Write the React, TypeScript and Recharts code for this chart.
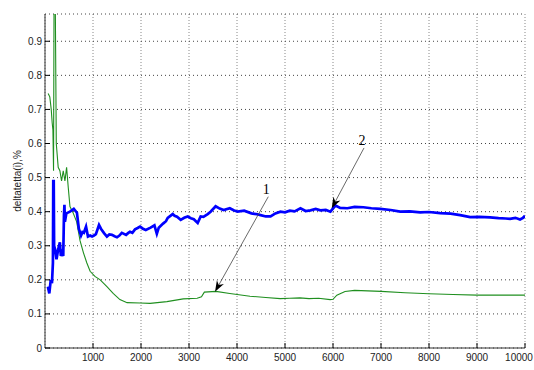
import { LineChart, Line, XAxis, YAxis, CartesianGrid, ReferenceLine } from "recharts"

// curve 1 (green)
const greenX = [65, 100, 130, 150, 165, 178, 190, 210, 235, 275, 310, 345, 380, 415, 450, 485, 520, 590, 660, 730, 800, 870, 940, 1040, 1150, 1290, 1420, 1560, 1710, 1980, 2190, 2540, 2880, 3170, 3260, 3320, 3560, 3850, 4270, 4600, 4900, 5100, 5310, 5500, 5700, 5940, 6000, 6080, 6250, 6450, 7000, 7500, 8000, 8500, 9000, 9500, 10000]
const greenY = [0.747, 0.737, 0.7, 0.66, 0.64, 0.52, 1.1, 1.1, 0.6, 0.53, 0.52, 0.49, 0.52, 0.49, 0.53, 0.47, 0.415, 0.395, 0.37, 0.315, 0.28, 0.25, 0.225, 0.21, 0.2, 0.18, 0.16, 0.142, 0.133, 0.132, 0.131, 0.136, 0.144, 0.146, 0.15, 0.164, 0.166, 0.16, 0.152, 0.148, 0.145, 0.146, 0.147, 0.145, 0.146, 0.142, 0.143, 0.155, 0.166, 0.169, 0.166, 0.162, 0.159, 0.157, 0.155, 0.155, 0.155]

// curve 2 (blue)
const blueX = [60, 90, 120, 145, 165, 172, 182, 190, 210, 240, 275, 310, 330, 355, 380, 395, 405, 415, 445, 520, 600, 665, 705, 750, 780, 810, 855, 895, 940, 980, 1020, 1060, 1125, 1165, 1230, 1290, 1340, 1395, 1450, 1500, 1550, 1600, 1690, 1730, 1770, 1820, 1875, 1930, 1980, 2040, 2100, 2200, 2280, 2330, 2370, 2460, 2520, 2557, 2661, 2700, 2750, 2827, 2900, 2973, 3040, 3100, 3181, 3243, 3300, 3389, 3450, 3555, 3640, 3722, 3850, 3930, 4012, 4150, 4300, 4400, 4491, 4600, 4699, 4800, 4906, 5000, 5100, 5200, 5322, 5430, 5530, 5640, 5738, 5850, 5946, 6050, 6150, 6299, 6450, 6632, 6800, 6985, 7200, 7401, 7600, 7817, 8000, 8233, 8450, 8649, 8857, 9050, 9272, 9450, 9600, 9688, 9800, 9896, 9958, 10000]
const blueY = [0.18, 0.16, 0.2, 0.19, 0.25, 0.49, 0.49, 0.3, 0.29, 0.26, 0.29, 0.31, 0.27, 0.28, 0.27, 0.39, 0.42, 0.37, 0.395, 0.4, 0.408, 0.397, 0.35, 0.33, 0.34, 0.338, 0.356, 0.327, 0.33, 0.327, 0.33, 0.334, 0.361, 0.35, 0.337, 0.327, 0.333, 0.332, 0.328, 0.325, 0.33, 0.338, 0.332, 0.337, 0.341, 0.338, 0.348, 0.352, 0.356, 0.35, 0.346, 0.353, 0.36, 0.335, 0.353, 0.365, 0.372, 0.382, 0.393, 0.388, 0.385, 0.376, 0.382, 0.386, 0.381, 0.378, 0.367, 0.386, 0.385, 0.393, 0.4, 0.416, 0.409, 0.405, 0.41, 0.404, 0.4, 0.403, 0.395, 0.393, 0.39, 0.386, 0.386, 0.395, 0.4, 0.398, 0.403, 0.401, 0.41, 0.402, 0.404, 0.408, 0.404, 0.405, 0.4, 0.418, 0.411, 0.41, 0.414, 0.413, 0.41, 0.408, 0.405, 0.4, 0.401, 0.398, 0.399, 0.396, 0.394, 0.39, 0.384, 0.385, 0.383, 0.381, 0.38, 0.379, 0.382, 0.377, 0.382, 0.388, 0.387]

const xTicks = [1000, 2000, 3000, 4000, 5000, 6000, 7000, 8000, 9000, 10000]
const yTicks = [0, 0.1, 0.2, 0.3, 0.4, 0.5, 0.6, 0.7, 0.8, 0.9]

// annotation arrows: [label point, tip]
const arrowLabels = ["1", "2"]
const arrowX = [[4652, 3542], [6646, 5973]]
const arrowY = [[0.444, 0.165], [0.587, 0.41]]

const greenData = greenX.map((x, i) => ({ x, y: greenY[i] }))
const blueData = blueX.map((x, i) => ({ x, y: blueY[i] }))

const BottomTick = ({ x, y, payload }: any) => (
  <g>
    <line x1={x} x2={x} y1={y} y2={y - 5} stroke="#000" />
    <text
      x={payload.value === 10000 ? x - 6 : x}
      y={y + 13}
      textAnchor="middle"
      fontSize={10}
      fill="#222"
    >
      {payload.value}
    </text>
  </g>
)

const LeftTick = ({ x, y, payload }: any) => (
  <g>
    <line x1={x} x2={x + 5} y1={y} y2={y} stroke="#000" />
    <text x={x - 3} y={y + 3.5} textAnchor="end" fontSize={10} fill="#222">
      {payload.value}
    </text>
  </g>
)

const TopTick = ({ x, y }: any) => <line x1={x} x2={x} y1={y} y2={y + 5} stroke="#000" />
const RightTick = ({ x, y }: any) => <line x1={x} x2={x - 5} y1={y} y2={y} stroke="#000" />

const Arrow = ({ x1, y1, x2, y2, text }: any) => {
  const ang = Math.atan2(y2 - y1, x2 - x1)
  const len = 11
  const w = 4
  const bx = x2 - len * Math.cos(ang)
  const by = y2 - len * Math.sin(ang)
  const nx = x2 - len * 0.7 * Math.cos(ang)
  const ny = y2 - len * 0.7 * Math.sin(ang)
  const px = -Math.sin(ang) * w
  const py = Math.cos(ang) * w
  return (
    <g>
      <line x1={x1} y1={y1} x2={nx} y2={ny} stroke="#444" strokeWidth={0.8} />
      <polygon
        points={`${x2},${y2} ${bx + px},${by + py} ${nx},${ny} ${bx - px},${by - py}`}
        fill="#000"
      />
      <text x={x1 - 2} y={y1 - 3} textAnchor="middle" fontSize={14} fontFamily="Liberation Serif, serif" fill="#000">
        {text}
      </text>
    </g>
  )
}

export default function App() {
  return (
    <div style={{ position: "absolute", left: 0, top: 0, fontFamily: "Liberation Sans, Arial, sans-serif" }}>
      <LineChart width={534} height={370} margin={{ top: 14, right: 9, left: 0, bottom: 0 }}>
        <CartesianGrid horizontal={false} stroke="#888" strokeDasharray="1 2" />
        <CartesianGrid vertical={false} stroke="#444" strokeDasharray="1 3" />
        <XAxis
          dataKey="x"
          type="number"
          domain={[0, 10000]}
          ticks={xTicks}
          allowDataOverflow
          height={22}
          tickSize={0}
          tickMargin={0}
          tick={<BottomTick />}
          stroke="#333"
          interval={0}
        />
        <XAxis
          xAxisId="top"
          orientation="top"
          dataKey="x"
          type="number"
          domain={[0, 10000]}
          ticks={xTicks}
          height={0}
          tickSize={0}
          tickMargin={0}
          tick={<TopTick />}
          stroke="#333"
          interval={0}
        />
        <YAxis
          type="number"
          domain={[0, 0.98]}
          ticks={yTicks}
          allowDataOverflow
          width={45}
          tickSize={0}
          tickMargin={0}
          tick={<LeftTick />}
          stroke="#333"
          interval={0}
        />
        <YAxis
          yAxisId="r"
          orientation="right"
          type="number"
          domain={[0, 0.98]}
          ticks={yTicks}
          width={0}
          tickSize={0}
          tickMargin={0}
          tick={<RightTick />}
          stroke="#333"
          interval={0}
        />
        <Line
          data={greenData}
          dataKey="y"
          stroke="#1f8f1f"
          strokeWidth={1.1}
          dot={false}
          isAnimationActive={false}
        />
        <Line
          data={blueData}
          dataKey="y"
          stroke="#0000ff"
          strokeWidth={2.7}
          dot={false}
          isAnimationActive={false}
        />
        {arrowLabels.map((t, i) => (
          <ReferenceLine
            key={t}
            segment={[
              { x: arrowX[i][0], y: arrowY[i][0] },
              { x: arrowX[i][1], y: arrowY[i][1] },
            ]}
            shape={(p: any) => <Arrow {...p} text={t} />}
          />
        ))}
      </LineChart>
      <svg width={30} height={370} style={{ position: "absolute", left: 0, top: 0 }}>
        <text
          x={21}
          y={181}
          transform="rotate(-90 21 181)"
          textAnchor="middle"
          fontSize={10}
          fill="#222"
        >
          deltatetta(i),%
        </text>
      </svg>
    </div>
  )
}
